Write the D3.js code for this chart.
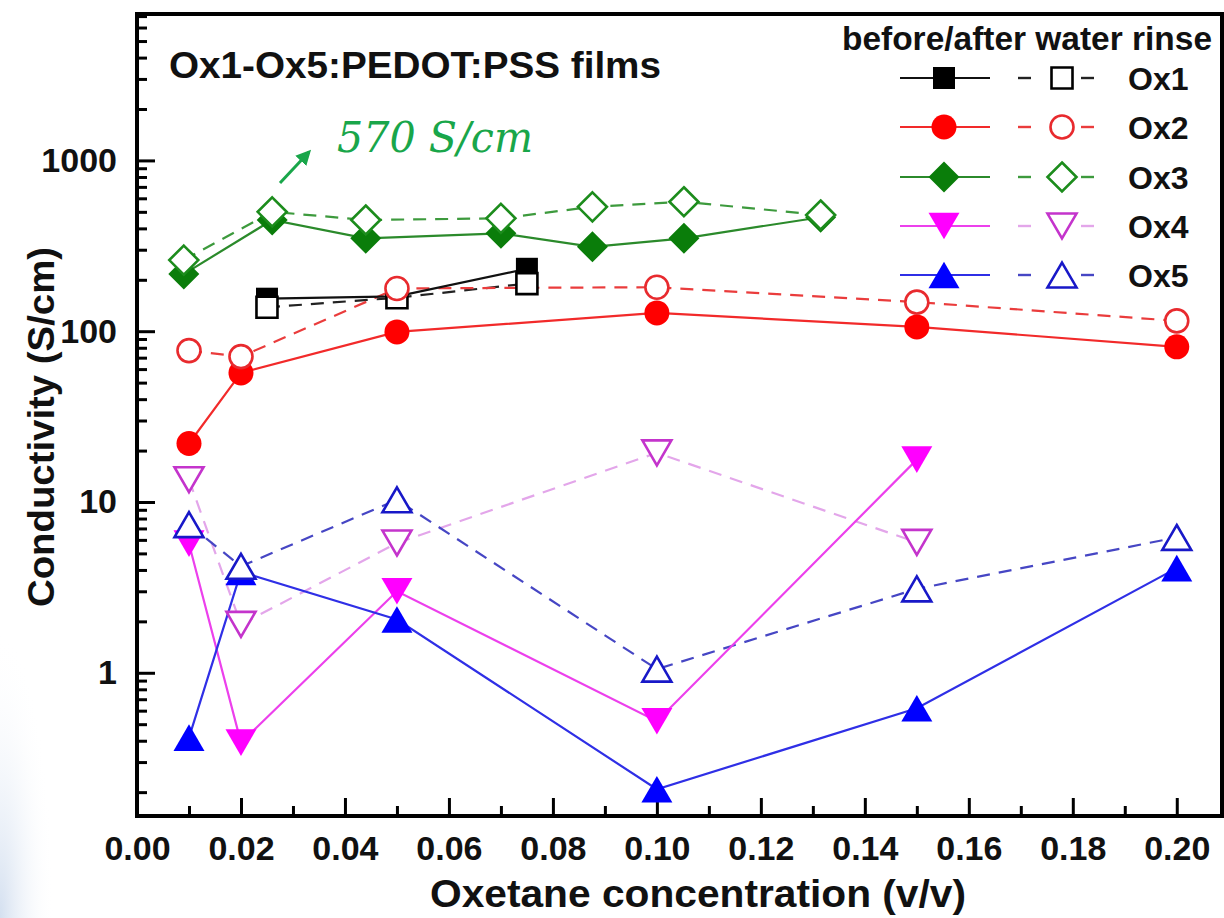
<!DOCTYPE html>
<html lang="en">
<head>
<meta charset="UTF-8">
<title>Ox1-Ox5:PEDOT:PSS conductivity</title>
<style>
  body { margin: 0; background: #fff; }
  svg { display: block; font-family: 'Liberation Sans', Arial, sans-serif; }
</style>
</head>
<body>
<svg id="chart" width="1224" height="918"></svg>
<script src="https://d3js.org/d3.v7.min.js"></script>
<script>
// values (S/cm), before / after water rinse
const seriesNames = ["Ox1", "Ox2", "Ox3", "Ox4", "Ox5"];

const ox1Conc = [0.025, 0.05, 0.075];
const ox1Before = [155, 160, 232];
const ox1After = [138, 157, 190];

const ox2Conc = [0.01, 0.02, 0.05, 0.10, 0.15, 0.20];
const ox2Before = [22, 57, 99, 128, 106, 81];
const ox2After = [77, 71, 178, 181, 148, 115];

const ox3Conc = [0.009, 0.026, 0.044, 0.07, 0.0876, 0.1052, 0.1315];
const ox3Before = [216, 448, 350, 374, 312, 350, 465];
const ox3After = [261, 500, 448, 458, 535, 573, 479];

const ox4Conc = [0.01, 0.02, 0.05, 0.10, 0.15];
const ox4Before = [5.7, 0.39, 3.0, 0.52, 17.7];
const ox4After = [13.5, 1.92, 5.75, 19.4, 5.8];

const ox5Conc = [0.01, 0.02, 0.05, 0.10, 0.15, 0.20];
const ox5Before = [0.417, 3.9, 2.05, 0.208, 0.62, 4.1];
const ox5After = [7.37, 4.2, 10.3, 1.05, 3.1, 6.2];

const xTicks = [0, 0.02, 0.04, 0.06, 0.08, 0.10, 0.12, 0.14, 0.16, 0.18, 0.20];
const yTicks = [1, 10, 100, 1000];

const titleText = "Ox1-Ox5:PEDOT:PSS films";
const legendTitle = "before/after water rinse";
const noteText = "570 S/cm";

// styling per series
const styles = {
  Ox1: { shape: "square",  fill: "#000000", line: "#111111", open: "#000000", dash: "#222222" },
  Ox2: { shape: "circle",  fill: "#ff0000", line: "#f22a2a", open: "#e82a2e", dash: "#ea3c3c" },
  Ox3: { shape: "diamond", fill: "#0a7d0a", line: "#2b8a2b", open: "#1c8c1c", dash: "#3d9a3d" },
  Ox4: { shape: "down",    fill: "#ff00ff", line: "#ec40ec", open: "#c434cc", dash: "#e3a6ea" },
  Ox5: { shape: "up",      fill: "#0000ff", line: "#2f2fe6", open: "#1818c8", dash: "#4646c4" }
};

const series = [
  { name: "Ox1", conc: ox1Conc, before: ox1Before, after: ox1After },
  { name: "Ox2", conc: ox2Conc, before: ox2Before, after: ox2After },
  { name: "Ox3", conc: ox3Conc, before: ox3Before, after: ox3After },
  { name: "Ox4", conc: ox4Conc, before: ox4Before, after: ox4After },
  { name: "Ox5", conc: ox5Conc, before: ox5Before, after: ox5After }
];

const svg = d3.select("#chart");
const plotLeft = 137, plotRight = 1222, plotTop = 14, plotBottom = 816;

// faint blue glow in the lower left corner of the scan
const defs = svg.append("defs");
const glow = defs.append("radialGradient").attr("id", "glow")
  .attr("cx", 0).attr("cy", 1).attr("r", 0.9);
glow.append("stop").attr("offset", "0%").attr("stop-color", "#cfdcee").attr("stop-opacity", 0.9);
glow.append("stop").attr("offset", "100%").attr("stop-color", "#ffffff").attr("stop-opacity", 0);
svg.append("rect").attr("x", 0).attr("y", 600).attr("width", 60).attr("height", 318)
  .attr("fill", "url(#glow)");

const x = d3.scaleLinear().domain([0, 0.2087]).range([plotLeft, plotRight]);
const y = d3.scaleLog().domain([0.145, 7200]).range([plotBottom, plotTop]);

// minor ticks
const xMinor = d3.range(1, 21, 2).map(d => d / 100);
const yMinor = [];
[0.1, 1, 10, 100, 1000].forEach(dec => {
  for (let k = 2; k <= 9; k++) {
    const v = dec * k;
    if (v >= 0.145 && v <= 7200) yMinor.push(v);
  }
});

function styleAxis(g) {
  g.select(".domain").remove();
  g.selectAll(".tick line").attr("stroke", "#000").attr("stroke-width", 3);
  g.selectAll(".tick text")
    .attr("fill", "#111")
    .style("font-size", "34px")
    .style("font-weight", "bold");
}

svg.append("g").attr("transform", `translate(0,${plotBottom})`)
  .call(d3.axisBottom(x).tickValues(xMinor).tickSize(-10).tickFormat(""))
  .call(styleAxis);
svg.append("g").attr("transform", `translate(0,${plotBottom})`)
  .call(d3.axisBottom(x).tickValues(xTicks).tickSize(-18).tickPadding(20).tickFormat(d3.format(".2f")))
  .call(styleAxis);

svg.append("g").attr("transform", `translate(${plotLeft},0)`)
  .call(d3.axisLeft(y).tickValues(yMinor).tickSize(-10).tickFormat(""))
  .call(styleAxis);
svg.append("g").attr("transform", `translate(${plotLeft},0)`)
  .call(d3.axisLeft(y).tickValues(yTicks).tickSize(-18).tickPadding(20).tickFormat(d3.format("d")))
  .call(styleAxis);

// frame
svg.append("rect")
  .attr("x", plotLeft).attr("y", plotTop)
  .attr("width", plotRight - plotLeft).attr("height", plotBottom - plotTop)
  .attr("fill", "none").attr("stroke", "#000").attr("stroke-width", 4);

// axis titles
svg.append("text")
  .attr("x", 698).attr("y", 907)
  .attr("text-anchor", "middle")
  .attr("textLength", 536).attr("lengthAdjust", "spacingAndGlyphs")
  .style("font-size", "38px").style("font-weight", "bold").attr("fill", "#111")
  .text("Oxetane concentration (v/v)");

svg.append("text")
  .attr("transform", "translate(54,427) rotate(-90)")
  .attr("text-anchor", "middle")
  .attr("textLength", 360).attr("lengthAdjust", "spacingAndGlyphs")
  .style("font-size", "37px").style("font-weight", "bold").attr("fill", "#111")
  .text("Conductivity (S/cm)");

svg.append("text")
  .attr("x", 169).attr("y", 78)
  .attr("textLength", 492).attr("lengthAdjust", "spacingAndGlyphs")
  .style("font-size", "36px").style("font-weight", "bold").attr("fill", "#111")
  .text(titleText);

// marker shapes centred on their bounding box
function shapePath(shape, s) {
  switch (shape) {
    case "square": return `M${-s / 2},${-s / 2}h${s}v${s}h${-s}Z`;
    case "circle": return d3.arc()({ innerRadius: 0, outerRadius: s / 2, startAngle: 0, endAngle: 2 * Math.PI });
    case "diamond": return `M0,${-s / 2}L${s / 2},0L0,${s / 2}L${-s / 2},0Z`;
    case "up": return `M0,${-s * 0.43}L${s / 2},${s * 0.43}L${-s / 2},${s * 0.43}Z`;
    case "down": return `M0,${s * 0.43}L${s / 2},${-s * 0.43}L${-s / 2},${-s * 0.43}Z`;
  }
}
const filledSize = { square: 22, circle: 25, diamond: 31, up: 31, down: 31 };
const openSize = { square: 21, circle: 23, diamond: 29, up: 29, down: 29 };

const line = d3.line().x(d => x(d[0])).y(d => y(d[1]));
const pts = (xs, vs) => xs.map((c, i) => [c, vs[i]]);

// connecting lines
series.forEach(s => {
  const st = styles[s.name];
  svg.append("path").datum(pts(s.conc, s.after))
    .attr("d", line).attr("fill", "none")
    .attr("stroke", st.dash).attr("stroke-width", 2.2)
    .attr("stroke-dasharray", "13,9");
});
series.forEach(s => {
  const st = styles[s.name];
  svg.append("path").datum(pts(s.conc, s.before))
    .attr("d", line).attr("fill", "none")
    .attr("stroke", st.line).attr("stroke-width", 2.2);
});

// filled markers (before rinse)
series.forEach(s => {
  const st = styles[s.name];
  svg.append("g").selectAll("path")
    .data(pts(s.conc, s.before))
    .join("path")
    .attr("transform", d => `translate(${x(d[0])},${y(d[1])})`)
    .attr("d", shapePath(st.shape, filledSize[st.shape]))
    .attr("fill", st.fill);
});

// open markers (after rinse)
series.forEach(s => {
  const st = styles[s.name];
  svg.append("g").selectAll("path")
    .data(pts(s.conc, s.after))
    .join("path")
    .attr("transform", d => `translate(${x(d[0])},${y(d[1])})`)
    .attr("d", shapePath(st.shape, openSize[st.shape]))
    .attr("fill", "#fff").attr("stroke", st.open).attr("stroke-width", 2.6);
});

// legend
svg.append("text")
  .attr("x", 842).attr("y", 50)
  .attr("textLength", 370).attr("lengthAdjust", "spacingAndGlyphs")
  .style("font-size", "33px").style("font-weight", "bold").attr("fill", "#111")
  .text(legendTitle);

const legendRows = [78, 127, 177, 226, 275];
seriesNames.forEach((name, i) => {
  const st = styles[name];
  const ly = legendRows[i];
  const g = svg.append("g");
  g.append("line").attr("x1", 900).attr("x2", 990).attr("y1", ly).attr("y2", ly)
    .attr("stroke", st.line).attr("stroke-width", 2.2);
  g.append("path").attr("transform", `translate(944,${ly})`)
    .attr("d", shapePath(st.shape, filledSize[st.shape])).attr("fill", st.fill);
  [[1018, 1031], [1081, 1094]].forEach(([a, b]) => {
    g.append("line").attr("x1", a).attr("x2", b).attr("y1", ly).attr("y2", ly)
      .attr("stroke", st.dash).attr("stroke-width", 2.4);
  });
  g.append("path").attr("transform", `translate(1062,${ly})`)
    .attr("d", shapePath(st.shape, openSize[st.shape]))
    .attr("fill", "#fff").attr("stroke", st.open).attr("stroke-width", 2.6);
  g.append("text").attr("x", 1128).attr("y", ly + 12)
    .style("font-size", "32px").style("font-weight", "bold").attr("fill", "#111")
    .text(name);
});

// hand-written note with arrow
const noteColor = "#19a64a";
defs.append("marker").attr("id", "arrow")
  .attr("viewBox", "0 0 10 10").attr("refX", 8).attr("refY", 5)
  .attr("markerWidth", 5).attr("markerHeight", 5).attr("orient", "auto")
  .append("path").attr("d", "M0,0L10,5L0,10Z").attr("fill", noteColor);
svg.append("line")
  .attr("x1", 280).attr("y1", 183).attr("x2", 309).attr("y2", 152)
  .attr("stroke", noteColor).attr("stroke-width", 3)
  .attr("marker-end", "url(#arrow)");
svg.append("text")
  .attr("x", 337).attr("y", 152)
  .attr("textLength", 196).attr("lengthAdjust", "spacingAndGlyphs")
  .style("font-family", "'DejaVu Serif', serif").style("font-style", "italic")
  .style("font-size", "42px").attr("fill", noteColor)
  .text(noteText);
</script>
</body>
</html>
